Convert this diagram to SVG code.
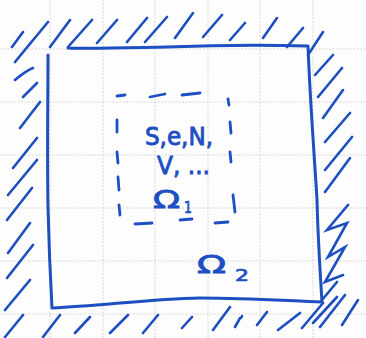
<svg xmlns="http://www.w3.org/2000/svg" width="366" height="338" viewBox="0 0 366 338">
<style>
.grid{stroke:#d6d6d6;stroke-width:1;stroke-dasharray:2 1.5}
.ink{fill:none;stroke:#1d4fc2;stroke-width:3;stroke-linecap:round;stroke-linejoin:round}
.hatch{fill:none;stroke:#1d4fc2;stroke-width:2.6;stroke-linecap:round}
.dash{fill:none;stroke:#1d4fc2;stroke-width:2.8;stroke-linecap:round}
.lbl{font-family:"DejaVu Sans","Liberation Sans",sans-serif;fill:#1d4fc2;stroke:#1d4fc2;stroke-width:0.9;font-size:25px}
.sub{font-family:"DejaVu Sans","Liberation Sans",sans-serif;fill:#1d4fc2;stroke:#1d4fc2;stroke-width:0.7;font-size:15px}
</style>
<rect width="366" height="338" fill="#fdfdfd"/>
<g id="grid">
<path class="grid" d="M50 0V338M103 0V338M155 0V338M208 0V338M260 0V338M313 0V338M0 49H366M0 102H366M0 155H366M0 208H366M0 261H366M0 314H366"/>
</g>
<g id="omega2">
<path class="ink" d="M48 55 C48 100 47 150 48 207 C49 250 51 290 52 308 C100 306 150 299 200 298 C250 298 290 301 322 302 C320 270 318 240 317 200 C314 150 310 100 308 46 C270 45 220 45 167 47 C120 48 90 49 68 48"/>
<text class="lbl" x="197" y="273" font-size="21" textLength="29" lengthAdjust="spacingAndGlyphs">Ω</text>
<text class="sub" x="235" y="281" textLength="14" lengthAdjust="spacingAndGlyphs">2</text>
</g>
<g id="wall">
<path class="hatch" d="M12 47L23 32M15 62L48 22M50 47L70 20M68 47L92 20M97 43L117 20M127 42L147 18M145 42L167 17M175 38L193 13M203 37L222 15M230 40L245 23M263 38L277 18M287 47L303 28M308 55L323 32
M315 75L333 55M318 97L342 68M323 118L343 90M325 142L350 113M325 170L352 137M325 192L350 158
M348 205L327 230L347 223L328 257L345 247L325 282L343 275
M322 300L337 282M302 328L323 303M320 327L345 295M342 325L358 300M313 323L337 297
M15 62L33 40M15 80C22 74 28 70 33 68M23 97L37 83M20 128L40 102M13 168L37 138M8 195L37 160M7 220L32 188M8 253L30 223M7 278L33 245M5 310L30 280
M5 337L23 315M43 337L60 315M75 333L90 317M110 333L128 315M143 333L158 315M182 328L192 317M213 330L230 307M235 327L240 318M241 318L242 316M257 325L267 312M278 330L300 313"/>
</g>
<g id="omega1">
<path class="dash" d="M117 96L125 95M150 97L165 94M182 95L200 93M228 99L229 105M230 122L231 133M230 152L231 162M233 195L235 212M117 120L117 132M117 152L118 163M118 177L119 190M119 205L120 215M135 224L152 223M180 220L192 219M215 223L228 222"/>
<text class="lbl" x="145" y="145" textLength="68" lengthAdjust="spacingAndGlyphs">S,e,N,</text>
<text class="lbl" x="157" y="174" textLength="53" lengthAdjust="spacingAndGlyphs">V, ...</text>
<text class="lbl" x="153" y="208" font-size="20" textLength="27" lengthAdjust="spacingAndGlyphs">Ω</text>
<text class="sub" x="184" y="213" textLength="8" lengthAdjust="spacingAndGlyphs">1</text>
</g>
</svg>
